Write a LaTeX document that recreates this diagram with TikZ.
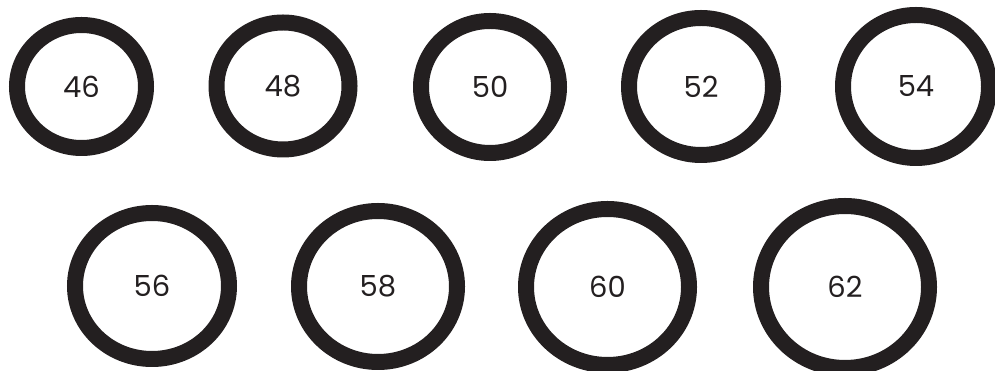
\documentclass[tikz,border=0pt]{standalone}
\usepackage{fontspec}
\setmainfont{Poppins}
\usepackage{tikz}
\usetikzlibrary{shapes.geometric}
\definecolor{ringblack}{HTML}{231F20}
\tikzset{
  ringnode/.style={
    ellipse,
    draw=ringblack,
    line width=16pt,
    inner sep=0pt,
    text=ringblack,
    font=\fontsize{29}{30}\selectfont
  }
}

\begin{document}
\begin{tikzpicture}[x=1pt,y=1pt]
\useasboundingbox (0,0) rectangle (995,371);
% top row
\node[ringnode, minimum width=129pt, minimum height=123pt] (ring46) at (81.5,284.5) {46};
\node[ringnode, minimum width=133pt, minimum height=127pt] (ring48) at (283,285) {48};
\node[ringnode, minimum width=138pt, minimum height=132pt] (ring50) at (490,284) {50};
\node[ringnode, minimum width=144pt, minimum height=137pt] (ring52) at (701,284.5) {52};
\node[ringnode, minimum width=146pt, minimum height=143pt] (ring54) at (916,284.5) {54};
% bottom row
\node[ringnode, minimum width=154pt, minimum height=146pt] (ring56) at (152,85) {56};
\node[ringnode, minimum width=158pt, minimum height=151pt] (ring58) at (378,84.5) {58};
\node[ringnode, minimum width=163pt, minimum height=156pt] (ring60) at (607.5,84) {60};
\node[ringnode, minimum width=168pt, minimum height=162pt] (ring62) at (845,84) {62};
\end{tikzpicture}
\end{document}
